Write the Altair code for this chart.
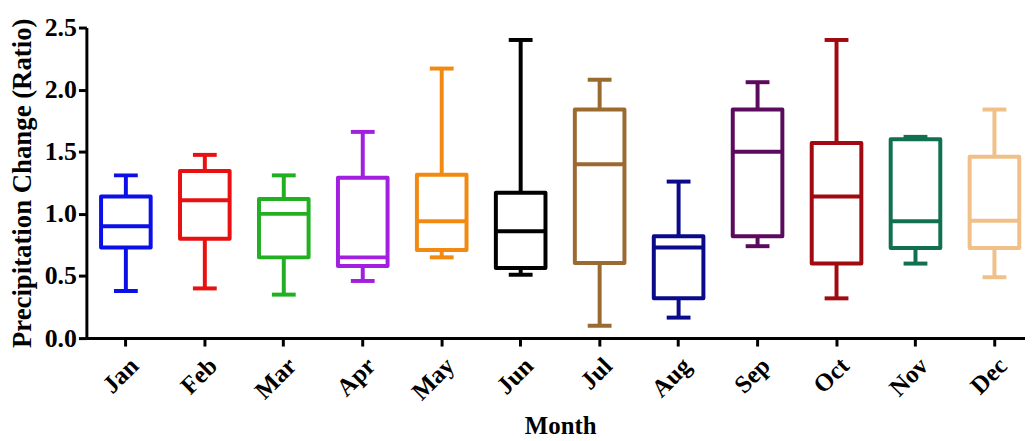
import altair as alt
import pandas as pd

months = ["Jan", "Feb", "Mar", "Apr", "May", "Jun", "Jul", "Aug", "Sep", "Oct", "Nov", "Dec"]
whisker_low = [0.38, 0.40, 0.35, 0.46, 0.65, 0.51, 0.10, 0.165, 0.74, 0.32, 0.60, 0.49]
q1 = [0.73, 0.80, 0.65, 0.58, 0.71, 0.565, 0.605, 0.32, 0.82, 0.60, 0.725, 0.725]
median = [0.90, 1.11, 1.00, 0.65, 0.94, 0.86, 1.40, 0.73, 1.50, 1.14, 0.94, 0.945]
q3 = [1.14, 1.345, 1.12, 1.29, 1.315, 1.17, 1.84, 0.82, 1.84, 1.57, 1.60, 1.46]
whisker_high = [1.31, 1.475, 1.31, 1.66, 2.17, 2.40, 2.08, 1.26, 2.06, 2.40, 1.62, 1.84]
colors = ["#0b10e8", "#e81010", "#22b022", "#a21fe0", "#f28a12", "#000000",
          "#9a6a30", "#0a0a8a", "#5c0a5e", "#a00a10", "#107050", "#f0c088"]

df = pd.DataFrame({
    "Month": months, "lo": whisker_low, "q1": q1, "med": median,
    "q3": q3, "hi": whisker_high,
})

FONT = "Liberation Serif"
color = alt.Color("Month:N", scale=alt.Scale(domain=months, range=colors), legend=None)
x = alt.X("Month:N", sort=months,
          scale=alt.Scale(range=[0, 955], paddingInner=0, paddingOuter=0),
          axis=alt.Axis(title="Month", labelAngle=-45, labelAlign="right",
                        labelBaseline="top", labelPadding=7))
yscale = alt.Scale(domain=[0, 2.5], nice=False)
yaxis = alt.Axis(title="Precipitation Change (Ratio)", values=[0, 0.5, 1.0, 1.5, 2.0, 2.5],
                 format=".1f")

base = alt.Chart(df)
w_low = base.mark_rule(strokeWidth=4, opacity=1).encode(
    x=x, y=alt.Y("lo:Q", scale=yscale, axis=yaxis), y2="q1:Q", color=color)
w_high = base.mark_rule(strokeWidth=4, opacity=1).encode(
    x=x, y=alt.Y("q3:Q", scale=yscale), y2="hi:Q", color=color)
cap_low = base.mark_tick(size=24, thickness=4, opacity=1).encode(
    x=x, y=alt.Y("lo:Q", scale=yscale), color=color)
cap_high = base.mark_tick(size=24, thickness=4, opacity=1).encode(
    x=x, y=alt.Y("hi:Q", scale=yscale), color=color)
box = base.mark_bar(size=50, fill="white", strokeWidth=4, strokeJoin="round",
                    opacity=1).encode(
    x=x, y=alt.Y("q1:Q", scale=yscale), y2="q3:Q", stroke=color)
med = base.mark_tick(size=50, thickness=4, opacity=1).encode(
    x=x, y=alt.Y("med:Q", scale=yscale), color=color)

chart = alt.layer(w_low, w_high, cap_low, cap_high, box, med).properties(
    width=946, height=313,
    autosize=alt.AutoSizeParams(type="none"),
    padding={"left": 79, "top": 18, "right": 0, "bottom": 102},
).configure_view(stroke=None).configure_axis(
    domainColor="black", domainWidth=3, tickColor="black", tickWidth=3, tickSize=8,
    grid=False, labelFont=FONT, labelFontWeight="bold", labelColor="black",
    titleFont=FONT, titleFontWeight="bold", titleColor="black",
).configure_axisY(
    labelFontSize=26, titleFontSize=27, labelPadding=2, titlePadding=8,
).configure_axisX(
    labelFontSize=25, titleFontSize=25, titlePadding=9,
)

chart.save("out.html", embed_options={"renderer": "svg", "actions": False})
